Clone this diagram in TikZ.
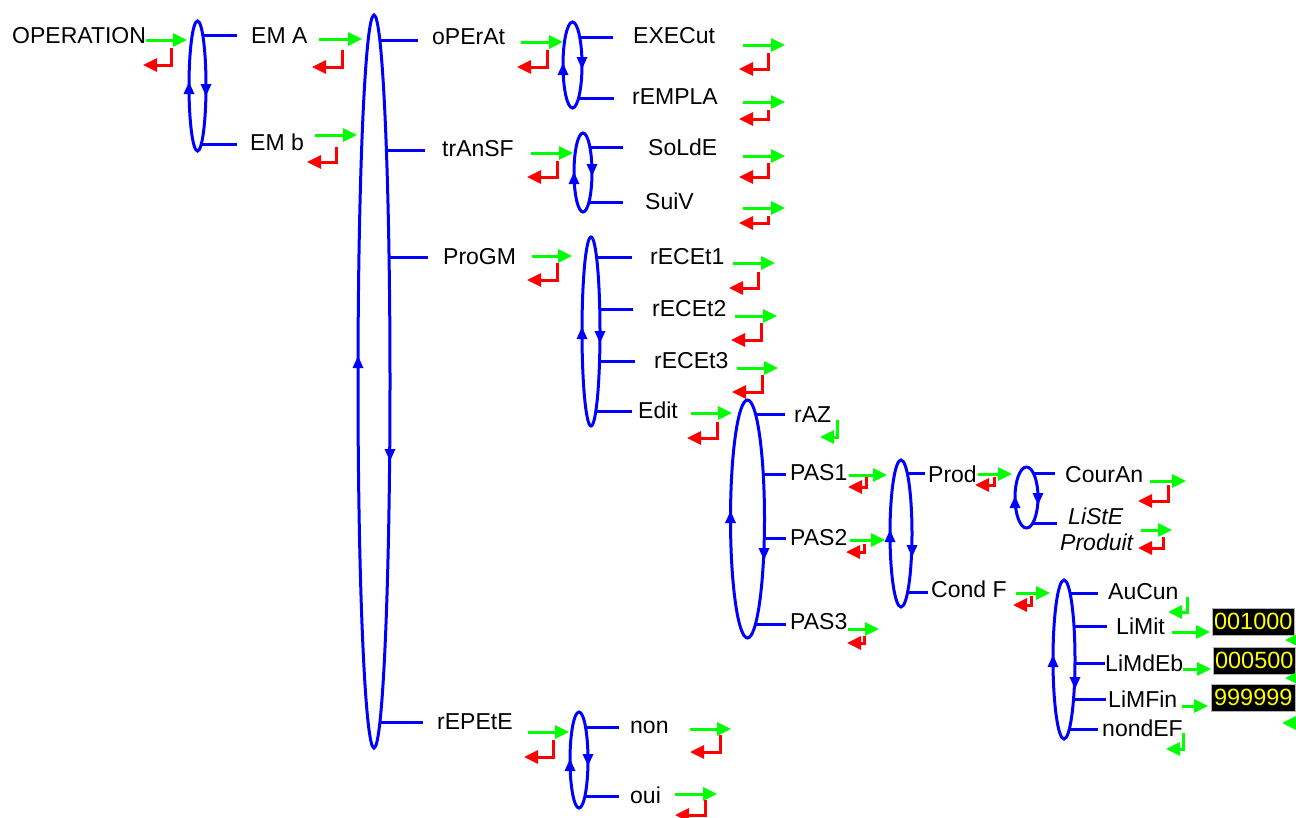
\documentclass[tikz,border=0pt]{standalone}
\usepackage{fontspec}
\setmainfont{Liberation Sans}
\usetikzlibrary{arrows.meta,shapes.geometric}
\definecolor{grn}{RGB}{0,255,0}
\definecolor{rd}{RGB}{255,0,0}
\definecolor{bl}{RGB}{0,0,255}
\definecolor{yl}{RGB}{255,255,0}
\newcommand\lbl[4]{\node[lbl] (#1) at (#2,#3) {#4};}
\newcommand\gar[3]{\draw[garrow] (#1,#3) -- (#2,#3);}
\newcommand\rcorner[4]{\draw[rarrow] (#1,#2) -- (#1,#3) -- (#4,#3);}
\newcommand\gcorner[4]{\draw[garrow] (#1,#2) -- (#1,#3) -- (#4,#3);}
\newcommand\uptri[2]{\fill[bl] (#1,#2) -- ++(-5.5,12) -- ++(11,0) -- cycle;}
\newcommand\dntri[2]{\fill[bl] (#1,#2) -- ++(-5.5,-12) -- ++(11,0) -- cycle;}
\newcommand\loopnode[5]{\node[loopell, minimum width=#4pt, minimum height=#5pt] (#1) at (#2,#3) {};}
\tikzset{
  lbl/.style={anchor=base west, inner sep=0pt, font=\fontsize{23}{27}\selectfont},
  ilbl/.style={lbl, font=\fontsize{23}{27}\selectfont\itshape},
  garrow/.style={draw=grn, line width=3pt, -{Triangle[length=14pt,width=13pt]}},
  rarrow/.style={draw=rd, line width=3pt, -{Triangle[length=14pt,width=13pt]}},
  loopell/.style={ellipse, draw=bl, line width=3pt, inner sep=0pt, outer sep=0pt},
  stub/.style={draw=bl, line width=3pt},
  numbox/.style={fill=black, draw=gray!60, line width=0.6pt, text=yl, inner sep=0pt,
     anchor=north west, font=\fontsize{23.5}{27}\selectfont},
}
\begin{document}
\begin{tikzpicture}[x=1pt,y=-1pt]
\fill[white] (0,0) rectangle (1296,817);
\clip (0,0) rectangle (1296,817);

% ---------- loops ----------
\loopnode{E1}{197.5}{86}{17}{130}
\loopnode{E2}{374}{381.5}{32}{733}
\loopnode{E3}{572.5}{65}{19}{86}
\loopnode{E4}{583}{172.5}{18}{79}
\loopnode{E5}{591}{331.5}{18}{189}
\loopnode{E6}{747.5}{519}{34}{238}
\loopnode{E7}{901}{533.5}{22}{147}
\loopnode{E8}{1026.5}{497.5}{23}{61}
\loopnode{E9}{1064}{659.5}{22}{159}
\loopnode{E10}{579}{760}{18}{96}

% loop direction arrows
\uptri{189}{82}   \dntri{206}{96}
\uptri{358}{356}  \dntri{390}{461}
\uptri{563}{63}   \dntri{582}{69}
\uptri{574}{172}  \dntri{592}{176}
\uptri{582}{327}  \dntri{600}{343}
\uptri{730.5}{511} \dntri{764}{560}
\uptri{890}{530}  \dntri{912}{557}
\uptri{1015}{496} \dntri{1038}{505}
\uptri{1053}{655} \dntri{1075}{689}
\uptri{570}{759}  \dntri{588}{766}

% ---------- stubs ----------
\draw[stub] (202,35) -- (237,35);
\draw[stub] (201,144) -- (237,144);
\draw[stub] (379,40) -- (418,40);
\draw[stub] (386,150) -- (425,150);
\draw[stub] (388.5,257) -- (428,257);
\draw[stub] (379.5,722) -- (423,722);
\draw[stub] (579,37) -- (613,37);
\draw[stub] (578,98) -- (614,98);
\draw[stub] (589.5,147) -- (623,147);
\draw[stub] (588.5,202) -- (623,202);
\draw[stub] (596,257) -- (632,257);
\draw[stub] (599,309) -- (633,309);
\draw[stub] (599,361) -- (635,361);
\draw[stub] (595.5,411) -- (632,411);
\draw[stub] (755,414) -- (785,414);
\draw[stub] (762.5,474) -- (786,474);
\draw[stub] (763.5,538) -- (786,538);
\draw[stub] (755,624) -- (786,624);
\draw[stub] (907,473) -- (925,473);
\draw[stub] (907,592) -- (928,592);
\draw[stub] (1033,473) -- (1055,473);
\draw[stub] (1032.5,523) -- (1057,523);
\draw[stub] (1069.5,593) -- (1098,593);
\draw[stub] (1073.5,626) -- (1107,626);
\draw[stub] (1074.5,663) -- (1105,663);
\draw[stub] (1073,699) -- (1106,699);
\draw[stub] (1069,729) -- (1098,729);
\draw[stub] (585,727) -- (619,727);
\draw[stub] (584.5,796) -- (619,796);

% ---------- labels ----------
\lbl{op}{12}{43}{OPERATION}
\lbl{ema}{251}{43}{EM A}
\lbl{emb}{250}{150}{EM b}
\lbl{operat}{432}{44}{oPErAt}
\lbl{transf}{442}{156}{trAnSF}
\lbl{progm}{443}{264}{ProGM}
\lbl{repete}{437}{729}{rEPEtE}
\lbl{execut}{633}{43}{EXECut}
\lbl{rempla}{632}{104}{rEMPLA}
\lbl{solde}{648}{155}{SoLdE}
\lbl{suiv}{645}{209}{SuiV}
\lbl{recet1}{650}{264}{rECEt1}
\lbl{recet2}{652}{316}{rECEt2}
\lbl{recet3}{654}{368}{rECEt3}
\lbl{edit}{638}{418}{Edit}
\lbl{raz}{794}{422}{rAZ}
\lbl{pas1}{790}{480}{PAS1}
\lbl{pas2}{790}{545}{PAS2}
\lbl{pas3}{790}{629}{PAS3}
\lbl{prod}{928}{482}{Prod}
\lbl{condf}{931}{597}{Cond F}
\lbl{couran}{1065}{482}{CourAn}
\node[ilbl] (liste) at (1068,524) {LiStE};
\node[ilbl] (produit) at (1060,550) {Produit};
\lbl{aucun}{1108}{599}{AuCun}
\lbl{limit}{1116}{634}{LiMit}
\lbl{limdeb}{1105}{671}{LiMdEb}
\lbl{limfin}{1108}{707}{LiMFin}
\lbl{nondef}{1102}{736}{nondEF}
\lbl{non}{630}{733}{non}
\lbl{oui}{630}{803}{oui}

% value boxes
\node[numbox, minimum width=82pt, minimum height=27pt] (v1) at (1212,608) {001000};
\node[numbox, minimum width=82pt, minimum height=27pt] (v2) at (1213,647) {000500};
\node[numbox, minimum width=84pt, minimum height=27pt] (v3) at (1211,684) {999999};

% ---------- green enter arrows ----------
\gar{146}{187}{40}
\gar{319}{362}{39}
\gar{315}{357}{135}
\gar{521}{563}{42}
\gar{743}{785}{45}
\gar{743}{785}{102}
\gar{531}{573}{153}
\gar{743}{785}{156}
\gar{743}{785}{208}
\gar{532}{572}{256}
\gar{733}{775}{263}
\gar{735}{777}{316}
\gar{737}{778}{368}
\gar{691}{732}{413}
\gar{849}{887}{475}
\gar{850}{885}{540}
\gar{848}{879}{629}
\gar{978}{1012}{474}
\gar{1016}{1050}{593}
\gar{1150}{1186}{481}
\gar{1141}{1172}{530}
\gar{528}{569}{732}
\gar{690}{731}{729}
\gar{675}{717}{794}
\gar{1172}{1210}{632}
\gar{1183}{1211}{669}
\gar{1182}{1208}{706}
% return arrows leaving the picture on the right
\gar{1320}{1285}{640}
\gar{1320}{1285}{678}
\gar{1320}{1282}{723}

% ---------- red return arrows ----------
\rcorner{171}{48}{65}{143}
\rcorner{342}{50}{67}{312}
\rcorner{336}{147}{162}{307}
\rcorner{547}{50}{67}{517}
\rcorner{768}{53}{69}{739}
\rcorner{768}{110}{119}{739}
\rcorner{557}{161}{177}{527}
\rcorner{768}{163}{177}{739}
\rcorner{768}{216}{223}{739}
\rcorner{557}{263}{280}{527}
\rcorner{758}{272}{288}{729}
\rcorner{761}{323}{340}{731}
\rcorner{762}{375}{392}{732}
\rcorner{717}{422}{438}{687}
\rcorner{866}{477}{487}{848}
\rcorner{864}{544}{552}{846}
\rcorner{864}{636}{643}{847}
\rcorner{994}{477}{485}{975}
\rcorner{1031}{596}{605}{1013}
\rcorner{1168}{485}{501}{1138}
\rcorner{1163}{537}{548}{1138}
\rcorner{553}{740}{757}{524}
\rcorner{720}{735}{752}{690}
\rcorner{705}{800}{815}{675}

% ---------- green return corners ----------
\gcorner{837}{420}{437}{820}
\gcorner{1187}{597}{612}{1168}
\gcorner{1183}{733}{749}{1166}
\end{tikzpicture}
\end{document}
